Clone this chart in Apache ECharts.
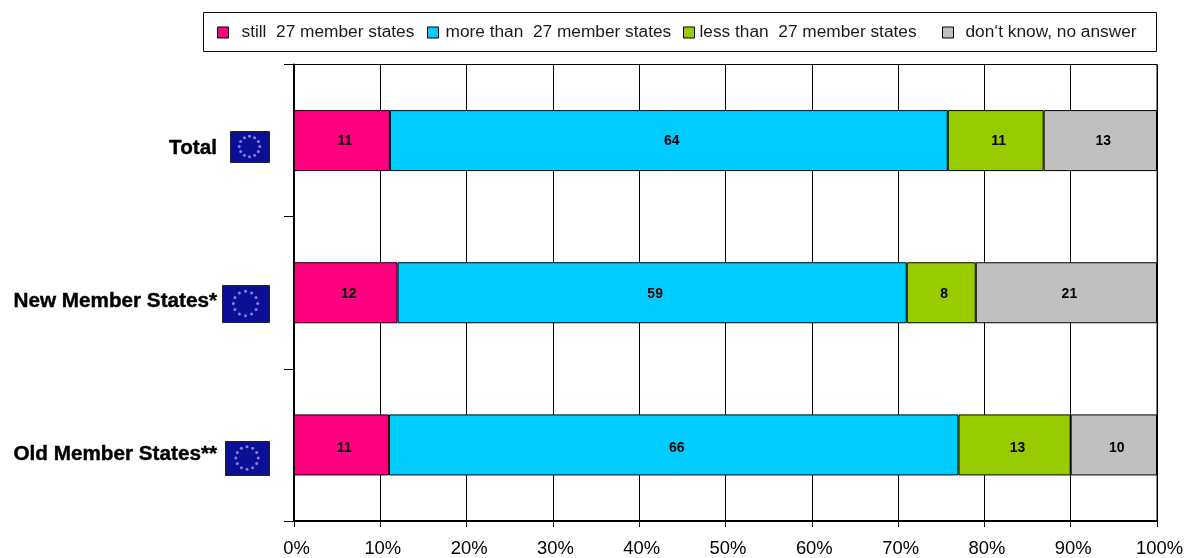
<!DOCTYPE html>
<html><head><meta charset="utf-8">
<style>html,body{margin:0;padding:0;background:#fff}#c{width:1188px;height:558px}</style>
<script src="https://cdn.jsdelivr.net/npm/echarts@6/dist/echarts.min.js"></script>
</head><body><div id="c"></div>
<script>
const categories = ['Total', 'New Member States*', 'Old Member States**'];
const seriesNames = ['still  27 member states', 'more than  27 member states', 'less than  27 member states', "don‘t know, no answer"];
const still = [11, 12, 11];
const more = [64, 59, 66];
const less = [11, 8, 13];
const dontKnow = [13, 21, 10];
const colors = ['#FF0080', '#00CCFF', '#99CC00', '#C0C0C0'];
const xTicks = [0, 10, 20, 30, 40, 50, 60, 70, 80, 90, 100];

const raw = [still, more, less, dontKnow];
const totals = categories.map((_, i) => raw.reduce((s, r) => s + r[i], 0));
const FONT = '"Liberation Sans", Arial, sans-serif';
const rowLabelDy = [1, 1, 3];

// legend placement: [icon left, gap to text]
const legendSlots = [[217, 8], [427, 2], [683, 0], [942, 7]];
const legends = seriesNames.map((n, i) => ({
  data: [n], left: legendSlots[i][0], top: 24, padding: 0,
  itemWidth: 11, itemHeight: 11, selectedMode: false, icon: 'rect',
  itemStyle: {borderColor: '#000', borderWidth: 1},
  textStyle: {fontFamily: FONT, fontSize: 17.3, color: '#1a1a1a', padding: [0, 0, 0, legendSlots[i][1]]}
}));

// EU flag decoration: [left, top, width, height]
const flags = [[230, 131, 39, 31], [222, 285, 47, 37], [225, 441, 44, 34]];
const flagGraphics = [];
flags.forEach(f => {
  flagGraphics.push({type: 'rect', shape: {x: f[0] + .5, y: f[1] + .5, width: f[2], height: f[3]},
    style: {fill: '#0A0F96', stroke: '#222', lineWidth: 1}, z: 10});
  const cx = f[0] + f[2] / 2, cy = f[1] + f[3] / 2, rad = f[3] * 0.33;
  for (let k = 0; k < 12; k++) {
    const a = k * Math.PI / 6;
    flagGraphics.push({type: 'circle', shape: {cx: cx + rad * Math.cos(a), cy: cy + rad * Math.sin(a), r: 1.5},
      style: {fill: '#7F86D8'}, z: 11});
  }
});

const catStyle = {fontFamily: FONT, fontSize: 20.7, fontWeight: 'bold', color: '#000', lineHeight: 16,
  textBorderColor: '#000', textBorderWidth: 0.4};

const chart = echarts.init(document.getElementById('c'), null, {renderer: 'canvas'});
chart.setOption({
  animation: false,
  backgroundColor: '#fff',
  color: colors,
  legend: legends,
  graphic: [{type: 'rect', shape: {x: 203.5, y: 12.5, width: 953, height: 39},
    style: {fill: 'none', stroke: '#111', lineWidth: 1}, z: 5}].concat(flagGraphics),
  grid: {left: 294, right: 31, top: 64.5, bottom: 36.5, show: true, borderColor: '#000', borderWidth: 1, backgroundColor: 'transparent'},
  xAxis: {
    type: 'value', min: 0, max: 100, interval: 10, position: 'bottom',
    axisLine: {show: true, onZero: false, lineStyle: {color: '#000', width: 2}},
    axisTick: {show: true, length: 6, lineStyle: {color: '#000', width: 1}},
    splitLine: {show: true, lineStyle: {color: '#000', width: 1}},
    axisLabel: {formatter: v => xTicks.includes(v) ? '{a|' + v + '%}' : '', margin: 19,
      rich: {a: {fontFamily: FONT, fontSize: 18.4, color: '#000', padding: [0, 0, 0, 5]}}}
  },
  yAxis: [{
    type: 'category', inverse: true, data: categories,
    axisLine: {show: true, lineStyle: {color: '#000', width: 2}},
    axisTick: {show: true, length: 10, lineStyle: {color: '#000', width: 1}},
    axisLabel: {margin: 77, align: 'right', verticalAlign: 'top',
      formatter: (v, i) => '{r' + i + '|' + v + '}',
      rich: {
        r0: Object.assign({}, catStyle),
        r1: Object.assign({padding: [1, 0, 0, 0]}, catStyle),
        r2: Object.assign({padding: [3, 0, 0, 0]}, catStyle)
      }}
  }],
  series: raw.map((r, si) => ({
    type: 'bar', name: seriesNames[si], stack: 'all', barWidth: 61,
    data: r.map((v, i) => ({value: v / totals[i] * 100, label: {offset: [3, rowLabelDy[i]]}})),
    itemStyle: {color: colors[si], borderColor: '#000', borderWidth: 1},
    label: {show: true, position: 'inside', formatter: p => String(r[p.dataIndex]),
      fontFamily: FONT, fontSize: 14, fontWeight: 'bold', color: '#000'}
  }))
});
</script></body></html>
